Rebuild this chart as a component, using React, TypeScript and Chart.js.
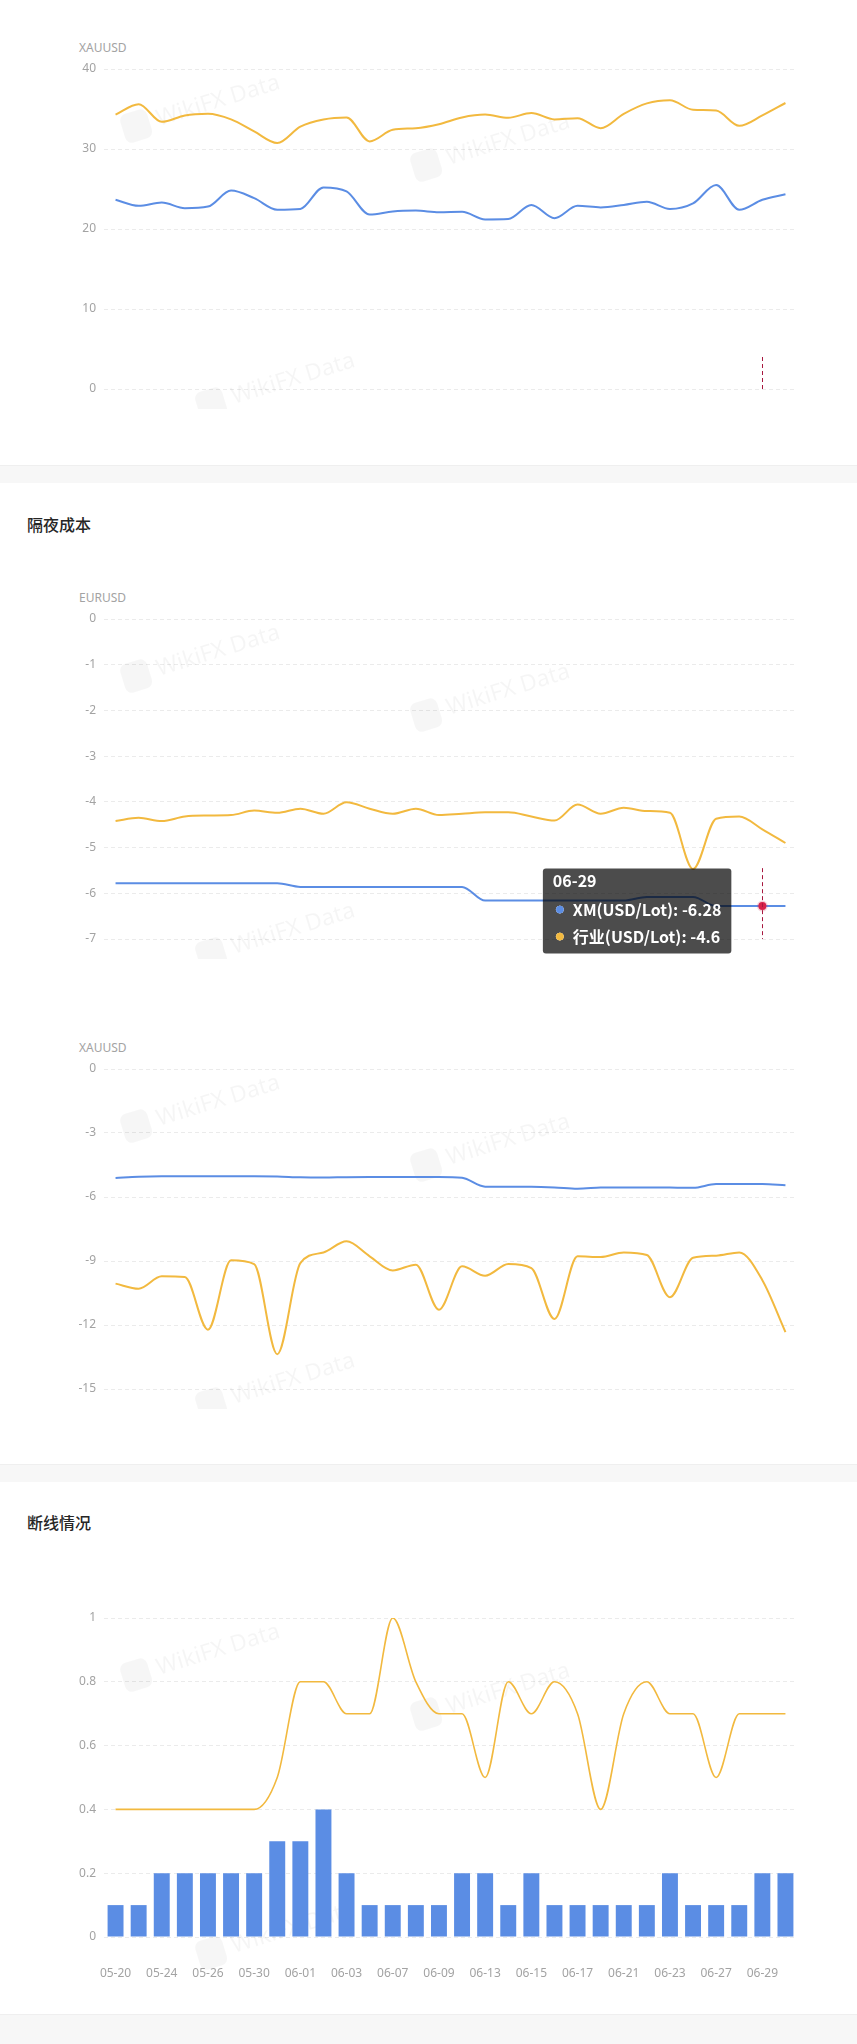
import React, { useEffect, useRef } from 'react';
import { Chart, registerables, Tooltip } from 'chart.js';

Chart.register(...registerables);

// ---------- data ----------
const dates = [
  '05-20', '05-23', '05-24', '05-25', '05-26', '05-29', '05-30', '05-31', '06-01', '06-02',
  '06-03', '06-06', '06-07', '06-08', '06-09', '06-12', '06-13', '06-14', '06-15', '06-16',
  '06-17', '06-20', '06-21', '06-22', '06-23', '06-26', '06-27', '06-28', '06-29', '06-30',
];

// chart 1: XAUUSD (top)
const spreadXauXM = [23.65, 22.9, 23.3, 22.6, 22.8, 24.8, 23.85, 22.4, 22.5, 25.2, 24.7, 21.8, 22.2, 22.3, 22.1,
  22.15, 21.2, 21.25, 23.0, 21.35, 22.9, 22.7, 23.0, 23.4, 22.5, 23.2, 25.5, 22.4, 23.65, 24.35];
const spreadXauIndustry = [34.3, 35.6, 33.4, 34.2, 34.4, 33.7, 32.2, 30.75, 32.8, 33.7, 33.95, 30.95, 32.4, 32.6, 33.1,
  33.95, 34.3, 33.9, 34.5, 33.7, 33.85, 32.6, 34.4, 35.7, 36.1, 34.9, 34.8, 32.9, 34.2, 35.75];

// chart 2: 隔夜成本 EURUSD
const swapEurXM = [-5.78, -5.78, -5.78, -5.78, -5.78, -5.78, -5.78, -5.78, -5.86, -5.86, -5.86, -5.86, -5.86, -5.86, -5.86,
  -5.86, -6.16, -6.16, -6.16, -6.16, -6.16, -6.16, -6.16, -6.08, -6.08, -6.08, -6.28, -6.28, -6.28, -6.28];
const swapEurIndustry = [-4.42, -4.35, -4.42, -4.32, -4.3, -4.29, -4.19, -4.24, -4.15, -4.26, -4.01, -4.15, -4.26, -4.15, -4.29,
  -4.26, -4.23, -4.23, -4.32, -4.41, -4.06, -4.26, -4.13, -4.2, -4.24, -5.47, -4.37, -4.32, -4.6, -4.9];

// chart 3: 隔夜成本 XAUUSD
const swapXauXM = [-5.11, -5.05, -5.03, -5.03, -5.03, -5.03, -5.03, -5.04, -5.08, -5.09, -5.07, -5.06, -5.06, -5.06, -5.06,
  -5.1, -5.52, -5.52, -5.52, -5.55, -5.61, -5.56, -5.55, -5.55, -5.56, -5.57, -5.39, -5.39, -5.39, -5.45];
const swapXauIndustry = [-10.06, -10.3, -9.72, -9.75, -12.22, -8.97, -9.15, -13.37, -9.1, -8.6, -8.08, -8.78, -9.44, -9.17, -11.28,
  -9.25, -9.69, -9.14, -9.33, -11.72, -8.78, -8.81, -8.6, -8.72, -10.7, -8.85, -8.75, -8.6, -9.9, -12.33];

// chart 4: 断线情况
const disconnectXM = [0.1, 0.1, 0.2, 0.2, 0.2, 0.2, 0.2, 0.3, 0.3, 0.4, 0.2, 0.1, 0.1, 0.1, 0.1,
  0.2, 0.2, 0.1, 0.2, 0.1, 0.1, 0.1, 0.1, 0.1, 0.2, 0.1, 0.1, 0.1, 0.2, 0.2];
const disconnectIndustry = [0.4, 0.4, 0.4, 0.4, 0.4, 0.4, 0.4, 0.5, 0.8, 0.8, 0.7, 0.7, 1.0, 0.8, 0.7,
  0.7, 0.5, 0.8, 0.7, 0.8, 0.7, 0.4, 0.7, 0.8, 0.7, 0.7, 0.5, 0.7, 0.7, 0.7];

const hoverIndex = 28;

// ---------- styles ----------
const FONT = "'Noto Sans', 'Noto Sans CJK SC', sans-serif";
const CJK = "'Noto Sans CJK SC', 'Noto Sans', sans-serif";
const BLUE = '#5b8de4';
const YELLOW = '#f2b93f';
const GRID = '#ebebeb';
const TICK = '#a3a3a3';
const RED = '#a8183f';

(Tooltip.positioners as any).nearPoint = function (items: any[]) {
  if (!items.length) return false;
  const el = items[0].element;
  return { x: el.x, y: el.y + 5 };
};

const watermarkPlugin = {
  id: 'wm',
  beforeDatasetsDraw(chart: any) {
    const { ctx, chartArea, height, width } = chart;
    const spots = [[205, 36], [495, 75], [280, 314], [-48, 226]];
    ctx.save();
    ctx.beginPath();
    ctx.rect(28, 0, width - 28, height);
    ctx.clip();
    for (const [x, y] of spots) {
      ctx.save();
      ctx.translate(x, chartArea.top + y);
      ctx.rotate((-17 * Math.PI) / 180);
      ctx.fillStyle = 'rgba(0,0,0,0.035)';
      ctx.beginPath();
      (ctx as any).roundRect(-86, -15, 28, 30, 7);
      ctx.fill();
      ctx.font = `23px ${FONT}`;
      ctx.textBaseline = 'middle';
      ctx.fillStyle = 'rgba(0,0,0,0.04)';
      ctx.fillText('WikiFX Data', -50, 0);
      ctx.restore();
    }
    ctx.restore();
  },
};

const crosshairPlugin = {
  id: 'crosshair',
  afterDatasetsDraw(chart: any, _args: any, opts: any) {
    if (!opts || opts.index == null) return;
    const { ctx, chartArea, scales } = chart;
    const x = scales.x.getPixelForValue(opts.index);
    const y0 = scales.y.getPixelForValue(opts.from);
    ctx.save();
    ctx.strokeStyle = RED;
    ctx.lineWidth = 1;
    ctx.setLineDash([4, 3]);
    ctx.beginPath();
    ctx.moveTo(Math.round(x) + 0.5, y0);
    ctx.lineTo(Math.round(x) + 0.5, chartArea.bottom);
    ctx.stroke();
    ctx.restore();
  },
};

function yAxis(min: number, max: number, step: number) {
  return {
    min,
    max,
    afterFit(s: any) {
      s.width = 104;
    },
    ticks: {
      stepSize: step,
      padding: 8,
      color: TICK,
      font: { family: FONT, size: 12 },
      callback: (v: any) => String(+Number(v).toFixed(2)),
    },
    grid: { color: GRID, drawTicks: false, lineWidth: 1 },
    border: { display: false, dash: [4, 3] },
  };
}

function lineDs(label: string, data: number[], color: string, width = 2) {
  return {
    type: 'line' as const,
    label,
    data,
    borderColor: color,
    backgroundColor: color,
    borderWidth: width,
    pointRadius: 0,
    pointHoverRadius: 0,
    cubicInterpolationMode: 'monotone' as const,
    fill: false,
  };
}

function lineConfig(xm: number[], ind: number[], min: number, max: number, step: number, extra: any = {}) {
  return {
    type: 'line',
    data: {
      labels: dates,
      datasets: [
        { ...lineDs('XM(USD/Lot)', xm, BLUE), ...(extra.xmDs || {}) },
        lineDs('行业(USD/Lot)', ind, YELLOW),
      ],
    },
    options: {
      responsive: false,
      animation: false,
      events: [],
      layout: { padding: { top: 20, bottom: 20, left: 0, right: 60 } },
      scales: {
        x: { type: 'category', offset: true, display: false },
        y: yAxis(min, max, step),
      },
      plugins: {
        legend: { display: false },
        tooltip: extra.tooltip || { enabled: false },
        crosshair: extra.crosshair || {},
      },
    },
    plugins: [watermarkPlugin, crosshairPlugin],
  };
}

function ChartCanvas({ top, height, make, after }: { top: number; height: number; make: () => any; after?: (c: any) => void }) {
  const ref = useRef<HTMLCanvasElement>(null);
  useEffect(() => {
    const chart: any = new Chart(ref.current as HTMLCanvasElement, make());
    if (after) after(chart);
    return () => chart.destroy();
  }, []);
  return (
    <canvas
      ref={ref}
      width={857}
      height={height}
      style={{ position: 'absolute', left: 0, top, width: 857, height, display: 'block' }}
    />
  );
}

const axisLabel = (text: string, centerY: number) => (
  <div
    style={{
      position: 'absolute',
      left: 79,
      top: centerY - 8,
      lineHeight: '16px',
      fontSize: 12,
      color: TICK,
      fontFamily: FONT,
    }}
  >
    {text}
  </div>
);

const sectionTitle = (text: string, centerY: number) => (
  <div
    style={{
      position: 'absolute',
      left: 27,
      top: centerY - 11,
      lineHeight: '22px',
      fontSize: 16,
      fontWeight: 500,
      color: '#262626',
      fontFamily: CJK,
    }}
  >
    {text}
  </div>
);

const band = (top: number, height: number) => (
  <div
    style={{
      position: 'absolute',
      left: 0,
      top,
      width: 857,
      height,
      background: '#f7f7f7',
      borderTop: '1px solid #efefef',
      boxSizing: 'border-box',
    }}
  />
);

export default function App() {
  const chart1 = () =>
    lineConfig(spreadXauXM, spreadXauIndustry, 0, 40, 10, { crosshair: { index: hoverIndex, from: 4 } });

  const chart2 = () =>
    lineConfig(swapEurXM, swapEurIndustry, -7, 0, 1, {
      crosshair: { index: hoverIndex, from: -5.45 },
      xmDs: {
        pointHoverRadius: 4,
        pointHoverBackgroundColor: '#d8234b',
        pointHoverBorderColor: 'rgba(216,35,75,0.2)',
        pointHoverBorderWidth: 3,
      },
      tooltip: {
        enabled: true,
        position: 'nearPoint',
        xAlign: 'right',
        yAlign: 'center',
        caretSize: 0,
        caretPadding: 31,
        backgroundColor: 'rgba(0,0,0,0.7)',
        titleColor: '#fff',
        bodyColor: '#fff',
        titleFont: { family: CJK, size: 16, weight: 'bold', lineHeight: 1 },
        bodyFont: { family: CJK, size: 16, weight: 'bold', lineHeight: 1 },
        padding: { top: 4, bottom: 9, left: 10, right: 10 },
        titleMarginBottom: 13,
        bodySpacing: 11,
        cornerRadius: 3,
        usePointStyle: true,
        boxWidth: 14,
        boxHeight: 7,
        boxPadding: 4,
        callbacks: {
          labelColor: (ctx: any) => {
            const c = ctx.datasetIndex === 0 ? BLUE : YELLOW;
            return { borderColor: c, backgroundColor: c };
          },
        },
      },
    });

  const activate2 = (chart: any) => {
    chart.setActiveElements([{ datasetIndex: 0, index: hoverIndex }]);
    chart.tooltip.setActiveElements(
      [
        { datasetIndex: 0, index: hoverIndex },
        { datasetIndex: 1, index: hoverIndex },
      ],
      { x: 0, y: 0 }
    );
    chart.update();
  };

  const chart3 = () => lineConfig(swapXauXM, swapXauIndustry, -15, 0, 3);

  const chart4 = () => ({
    type: 'bar',
    data: {
      labels: dates,
      datasets: [
        {
          type: 'bar',
          label: 'XM',
          data: disconnectXM,
          backgroundColor: BLUE,
          borderWidth: 0,
          barPercentage: 0.69,
          categoryPercentage: 1,
          order: 2,
        },
        { ...lineDs('行业', disconnectIndustry, YELLOW, 1.6), order: 1 },
      ],
    },
    options: {
      responsive: false,
      animation: false,
      events: [],
      layout: { padding: { top: 20, bottom: 0, left: 0, right: 60 } },
      scales: {
        x: {
          type: 'category',
          offset: true,
          afterFit(s: any) {
            s.height = 50;
          },
          grid: { display: false, drawTicks: false },
          border: { display: false },
          ticks: {
            autoSkip: false,
            maxRotation: 0,
            minRotation: 0,
            padding: 29,
            color: TICK,
            font: { family: FONT, size: 12 },
            callback: function (this: any, value: any, index: number) {
              return index % 2 === 0 ? this.getLabelForValue(value) : '';
            },
          },
        },
        y: yAxis(0, 1, 0.2),
      },
      plugins: { legend: { display: false }, tooltip: { enabled: false } },
    },
    plugins: [watermarkPlugin],
  });

  return (
    <div style={{ position: 'relative', width: 857, height: 2044, background: '#fff', overflow: 'hidden' }}>
      <style>{`html,body{margin:0;padding:0;background:#fff;}`}</style>
      {axisLabel('XAUUSD', 48)}
      <ChartCanvas top={49} height={360} make={chart1} />
      {band(465, 18)}
      {sectionTitle('隔夜成本', 524)}
      {axisLabel('EURUSD', 598)}
      <ChartCanvas top={599} height={360} make={chart2} after={activate2} />
      {axisLabel('XAUUSD', 1048)}
      <ChartCanvas top={1049} height={360} make={chart3} />
      {band(1464, 18)}
      {sectionTitle('断线情况', 1522)}
      <ChartCanvas top={1598} height={389} make={chart4} />
      {band(2014, 30)}
    </div>
  );
}
